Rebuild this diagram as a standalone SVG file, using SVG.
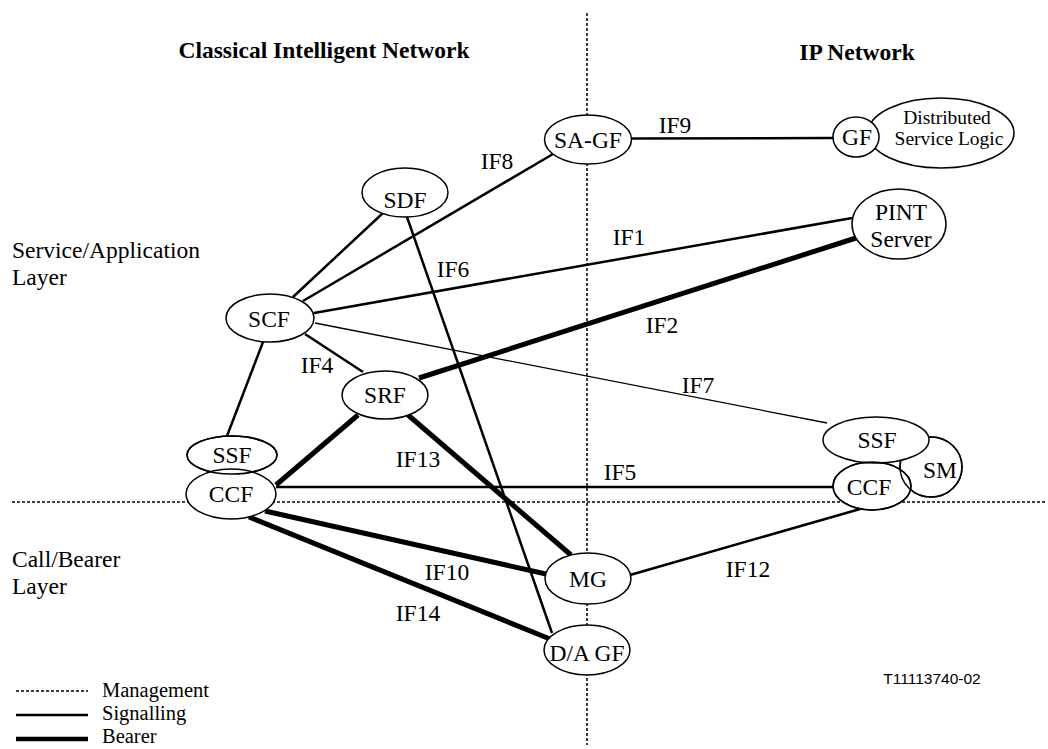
<svg xmlns="http://www.w3.org/2000/svg" width="1048" height="749" viewBox="0 0 1048 749">
<style>
text{font-family:"Liberation Serif","Times New Roman",serif;font-size:23.5px;fill:#000}
.c{text-anchor:middle}
.b{font-weight:bold}
.sm{font-size:19.5px}
.lg{font-size:20.5px}
.code{font-family:"Liberation Sans",Arial,sans-serif;font-size:15.5px}
.n{fill:#fff;stroke:#000;stroke-width:1.5}
.o{fill:none;stroke:#000;stroke-width:1.5}
.mg{fill:none;stroke:#000;stroke-width:1.5;stroke-dasharray:3 2}
.sg{fill:none;stroke:#000;stroke-width:2.5}
.br{fill:none;stroke:#000;stroke-width:5}
.th{fill:none;stroke:#000;stroke-width:1.3}
</style>
<rect width="1048" height="749" fill="#fff"/>
<g id="titles">
<text class="c b" x="324" y="58">Classical Intelligent Network</text>
<text class="c b" x="857" y="60">IP Network</text>
<text x="12" y="258">Service/Application</text>
<text x="12" y="285">Layer</text>
<text x="12" y="567">Call/Bearer</text>
<text x="12" y="594">Layer</text>
<text class="c code" x="932" y="684">T11113740-02</text>
</g>
<g id="management-lines">
<line class="mg" x1="587" y1="13" x2="587" y2="745"/>
<line class="mg" x1="12" y1="502" x2="1045" y2="502"/>
</g>
<g id="connectors">
<line class="sg" x1="631" y1="138.5" x2="833" y2="138"/>
<line class="sg" x1="303" y1="301" x2="553" y2="154"/>
<line class="sg" x1="293" y1="297" x2="383" y2="213"/>
<line class="sg" x1="407" y1="217" x2="552" y2="633"/>
<line class="sg" x1="314" y1="313" x2="852" y2="218"/>
<line class="br" x1="419" y1="378" x2="856" y2="238"/>
<line class="th" x1="315" y1="323" x2="827" y2="423"/>
<line class="sg" x1="305" y1="334" x2="363" y2="372"/>
<line class="sg" x1="263" y1="342" x2="227" y2="436"/>
<line class="br" x1="358" y1="415" x2="276" y2="485"/>
<line class="br" x1="408" y1="415" x2="571" y2="555"/>
<line class="sg" x1="276" y1="487" x2="833" y2="487"/>
<line class="br" x1="265" y1="511" x2="546" y2="574"/>
<line class="br" x1="249" y1="517" x2="550" y2="639"/>
<line class="sg" x1="630" y1="575" x2="860" y2="509"/>
</g>
<g id="connector-labels">
<text class="c" x="675" y="133">IF9</text>
<text class="c" x="497" y="169">IF8</text>
<text class="c" x="453" y="277">IF6</text>
<text class="c" x="629" y="245">IF1</text>
<text class="c" x="662" y="333">IF2</text>
<text class="c" x="698" y="393">IF7</text>
<text class="c" x="317" y="373">IF4</text>
<text class="c" x="418" y="467">IF13</text>
<text class="c" x="620" y="480">IF5</text>
<text class="c" x="447" y="580">IF10</text>
<text class="c" x="418" y="621">IF14</text>
<text class="c" x="748" y="577">IF12</text>
</g>
<g id="node-sagf"><ellipse class="n" cx="588" cy="139.5" rx="43.5" ry="24.5"/><text class="c" x="588" y="148">SA-GF</text></g>
<g id="node-dsl"><ellipse class="n" cx="941" cy="133" rx="73" ry="35"/><text class="c sm" x="947" y="124">Distributed</text><text class="c sm" x="949" y="145">Service Logic</text></g>
<g id="node-gf"><ellipse class="n" cx="856" cy="137" rx="23" ry="20"/><text class="c" x="857" y="145">GF</text></g>
<g id="node-pint"><ellipse class="n" cx="899" cy="224" rx="47" ry="35"/><text class="c" x="901" y="220">PINT</text><text class="c" x="901" y="247">Server</text></g>
<g id="node-sdf"><ellipse class="n" cx="405" cy="192.5" rx="43" ry="24.5"/><text class="c" x="405" y="208">SDF</text></g>
<g id="node-scf"><ellipse class="n" cx="270" cy="318" rx="44" ry="24"/><text class="c" x="269" y="327">SCF</text></g>
<g id="node-srf"><ellipse class="n" cx="385" cy="395" rx="43" ry="24"/><text class="c" x="385" y="403">SRF</text></g>
<g id="node-ssf-ccf-left">
<ellipse class="n" cx="232" cy="455" rx="45" ry="19"/>
<ellipse class="n" cx="231" cy="494" rx="45" ry="25"/>
<ellipse class="o" cx="232" cy="455" rx="45" ry="19"/>
<text class="c" x="232" y="463">SSF</text>
<text class="c" x="231" y="502">CCF</text>
</g>
<g id="node-ssf-ccf-sm-right">
<ellipse class="n" cx="931" cy="467" rx="31" ry="30"/>
<ellipse class="n" cx="872" cy="486" rx="39" ry="24"/>
<ellipse class="o" cx="931" cy="467" rx="31" ry="30"/>
<ellipse class="n" cx="876" cy="440" rx="53" ry="23"/>
<ellipse class="o" cx="872" cy="486" rx="39" ry="24"/>
<text class="c" x="877" y="448">SSF</text>
<text class="c" x="869" y="495">CCF</text>
<text class="c" x="940" y="478">SM</text>
</g>
<g id="node-mg"><ellipse class="n" cx="588" cy="578.5" rx="43" ry="25.5"/><text class="c" x="588" y="587">MG</text></g>
<g id="node-dagf"><ellipse class="n" cx="587" cy="650" rx="43" ry="25"/><text class="c" x="587" y="661">D/A GF</text></g>
<g id="legend">
<line class="mg" x1="16" y1="691" x2="88" y2="691"/>
<text class="lg" x="102" y="697">Management</text>
<line x1="16" y1="715" x2="88" y2="715" stroke="#000" stroke-width="2.7"/>
<text class="lg" x="102" y="720">Signalling</text>
<line x1="16" y1="739" x2="88" y2="739" stroke="#000" stroke-width="4.5"/>
<text class="lg" x="102" y="743">Bearer</text>
</g>
</svg>
